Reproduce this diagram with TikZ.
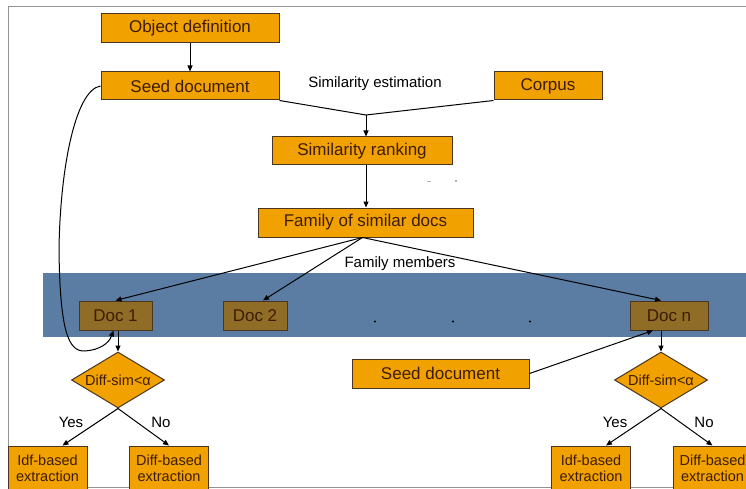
\documentclass[tikz,border=0pt]{standalone}
\usepackage{fontspec}
\setmainfont{Liberation Sans}
\usetikzlibrary{positioning,shapes.geometric,arrows.meta}
\definecolor{org}{HTML}{F2A200}
\definecolor{dcf}{HTML}{8F6D27}
\definecolor{bnd}{HTML}{5B7CA3}
\definecolor{ink}{HTML}{3D1C02}
\definecolor{edg}{HTML}{4A3520}
\tikzset{
  blk/.style={draw=edg, fill=org, text=ink, inner sep=1pt, align=center, font=\fontsize{17}{18}\selectfont},
  sbk/.style={blk, minimum width=79pt, minimum height=45pt, font=\fontsize{14.5}{16}\selectfont},
  dcb/.style={draw=edg, fill=dcf, text=ink, inner sep=1pt, minimum height=29pt, font=\fontsize{17}{18}\selectfont},
  dmd/.style={diamond, aspect=1.7, draw=edg, fill=org, text=ink, inner sep=0pt, minimum width=93pt, minimum height=56pt, font=\fontsize{14.5}{16}\selectfont},
  arr/.style={-{Triangle[length=6pt, width=5pt]}},
  lbl/.style={font=\fontsize{15}{16}\selectfont}}

\begin{document}
\begin{tikzpicture}[x=1pt, y=-1pt, line width=1pt]
\useasboundingbox (0,0) rectangle (746,489);
\draw[gray!85] (8,492) -- (8,7) -- (750,7);
\draw[gray!85] (8,487) -- (750,487);
\node[blk, minimum width=178pt, minimum height=29pt] (obj) at (190,28.5) {Object definition};
\node[blk, minimum width=178pt, minimum height=28pt] (seed) at (190,86) {Seed document};
\node[lbl] (est) at (375,84) {Similarity estimation};
\node[blk, minimum width=108pt, minimum height=28pt] (corp) at (548,86) {Corpus};
\coordinate (m) at (366,115);
\node[blk, minimum width=180pt, minimum height=28pt] (rank) at (362,151) {Similarity ranking};
\node[blk, minimum width=215pt, minimum height=29pt] (fam) at (365.5,222.5) {Family of similar docs};
\fill[gray!60] (427,180.5) rectangle (431,182);
\fill[gray!60] (455,180) rectangle (457,182);
\fill[bnd] (43,273) rectangle (750,337);
\node[lbl] (mem) at (400,264) {Family members};
\node[dcb, minimum width=73pt] (d1) at (115.5,315.5) {Doc 1};
\node[dcb, minimum width=64pt] (d2) at (255,315.5) {Doc 2};
\node[dcb, minimum width=78pt] (dn) at (669,315.5) {Doc n};
\foreach \x in {375,453,530} \fill (\x,321.5) circle (1.2pt);
\node[blk, minimum width=177pt, minimum height=29pt] (seed2) at (440.5,373.5) {Seed document};
\node[dmd] (q1) at (118,380) {Diff-sim<α};
\node[dmd] (q2) at (661,380) {Diff-sim<α};
\node[sbk] (idf1) at (47.5,468.5) {Idf-based\\extraction};
\node[sbk] (dif1) at (169,468.5) {Diff-based\\extraction};
\node[sbk] (idf2) at (591,468.5) {Idf-based\\extraction};
\node[sbk] (dif2) at (712.5,468.5) {Diff-based\\extraction};
\node[lbl] (y1) at (71,422) {Yes};
\node[lbl] (n1) at (161,422) {No};
\node[lbl] (y2) at (615,422) {Yes};
\node[lbl] (n2) at (704,422) {No};
\draw[arr] (obj) -- (seed);
\draw (seed.south east) -- (m) -- (corp.south west);
\draw[arr] (m) -- (m |- rank.north);
\draw[arr] (m |- rank.south) -- (m |- fam.north);
\draw[arr] ([xshift=-3pt]fam.south) -- (d1.north);
\draw[arr] ([xshift=-3pt]fam.south) -- ([xshift=8pt]d2.north);
\draw[arr] ([xshift=-3pt]fam.south) -- ([xshift=-8pt]dn.north);
\draw[arr] (seed.west) .. controls (75,90) and (60,170) .. (59,250) .. controls (60,330) and (68,352) .. (85,351) .. controls (100,350) and (109,343) .. ([xshift=-2pt]d1.south);
\draw[arr] (q1.north |- d1.south) -- (q1.north);
\draw[arr] (seed2.east) -- ([xshift=-16pt]dn.south);
\draw[arr] (q2.north |- dn.south) -- (q2.north);
\draw[arr] (q1.south) -- ([xshift=15pt]idf1.north);
\draw[arr] (q1.south) -- (dif1.north);
\draw[arr] (q2.south) -- ([xshift=15pt]idf2.north);
\draw[arr] (q2.south) -- (dif2.north);
\end{tikzpicture}
\end{document}
